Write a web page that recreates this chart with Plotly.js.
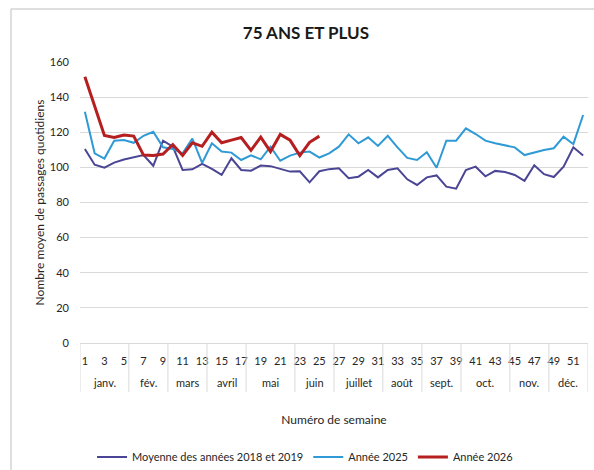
<!DOCTYPE html>
<html>
<head>
<meta charset="utf-8">
<script src="https://cdn.plot.ly/plotly-3.0.1.min.js"></script>
<style>
html,body{margin:0;padding:0;background:#fff;}
#chart{width:594px;height:470px;}
</style>
</head>
<body>
<div id="chart"></div>
<script>
// Week numbers (x categories)
const weeks = [1,2,3,4,5,6,7,8,9,10,11,12,13,14,15,16,17,18,19,20,21,22,23,24,25,26,
               27,28,29,30,31,32,33,34,35,36,37,38,39,40,41,42,43,44,45,46,47,48,49,50,51,52];
const weekTicks = [1,3,5,7,9,11,13,15,17,19,21,23,25,27,29,31,33,35,37,39,41,43,45,47,49,51];

// Month groups (first and last week of each month)
const monthNames = ["janv.","fév.","mars","avril","mai","juin","juillet","août","sept.","oct.","nov.","déc."];
const monthFirstWeek = [1,6,10,14,18,23,27,32,36,40,45,49];
const monthLastWeek  = [5,9,13,17,22,26,31,35,39,44,48,52];

// Series
const moy2018_2019 = [110.5,101.5,99.8,102.7,104.5,105.8,107,100.9,115.2,111.8,98.5,98.9,102,
  99.2,95.7,105.2,98.5,98.1,101,100.7,99,97.6,97.8,91.5,97.8,99,
  99.5,93.8,94.7,98.5,94.3,98.5,99.5,93.2,90,94.3,95.4,89,87.9,
  98.5,100.4,94.9,98,97.4,95.7,92.3,101.2,96.1,94.5,100.4,111.4,106.7];
const annee2025 = [131.7,108,105,115.2,115.6,114,118,120.3,111.4,110.5,108,116.4,102.5,
  113.7,109,108.4,104.2,106.9,104.6,111.8,103.8,106.7,108.4,109,105.6,108,
  111.8,118.8,113.7,117.1,112.2,118,111.4,105.4,104.2,108.6,99.8,115.2,115.2,
  122.2,119,115.2,113.7,112.6,111.4,107,108.6,109.9,110.9,117.5,113.2,129.8];
const annee2026 = [151.6,135.5,118.2,117,118.4,117.8,107,106.8,107.6,113,106.8,114,112,
  120,114,115.5,117,109.7,117.2,109,118.8,115.5,106.7,114.3,117.8];

const seriesNames = ["Moyenne des années 2018 et 2019","Année 2025","Année 2026"];
const FONT = "Lato, 'Open Sans', sans-serif";
const GRID = "#D9D9D9";

const traces = [
  {x: weeks, y: moy2018_2019, name: seriesNames[0], type: "scatter", mode: "lines",
   line: {color: "#4A4594", width: 2}},
  {x: weeks.slice(0, annee2025.length), y: annee2025, name: seriesNames[1], type: "scatter", mode: "lines",
   line: {color: "#2F9AD6", width: 2}},
  {x: weeks.slice(0, annee2026.length), y: annee2026, name: seriesNames[2], type: "scatter", mode: "lines",
   line: {color: "#B51F1F", width: 3}}
];

const sepY = -0.174;
const shapes = [];
const bounds = [0.5].concat(monthLastWeek.map(w => w + 0.5));
bounds.forEach(b => shapes.push({type: "line", xref: "x", yref: "paper", x0: b, x1: b, y0: 0, y1: sepY,
  line: {color: GRID, width: 1}}));
// outer chart border
shapes.push({type: "rect", xref: "paper", yref: "paper", x0: -0.1358, x1: 1.2, y0: -0.6, y1: 1.1886,
  line: {color: "#BFBFBF", width: 1}, layer: "below"});

const annotations = monthNames.map((m, i) => ({
  text: m, xref: "x", yref: "paper", x: (monthFirstWeek[i] + monthLastWeek[i]) / 2, y: -0.142,
  xanchor: "center", yanchor: "middle", showarrow: false, font: {family: FONT, size: 11, color: "#262626"}
}));

const layout = {
  width: 594, height: 470,
  margin: {l: 80, r: 6, t: 62, b: 127, autoexpand: false},
  paper_bgcolor: "rgba(0,0,0,0)", plot_bgcolor: "rgba(0,0,0,0)",
  font: {family: FONT, size: 11, color: "#262626"},
  title: {text: "<b>75 ANS ET PLUS</b>", font: {family: FONT, size: 17, color: "#1a1a1a"},
          x: 0.515, xanchor: "center", y: 0.93, yanchor: "middle", yref: "container"},
  xaxis: {range: [0.5, 52.5], tickmode: "array", tickvals: weekTicks, ticktext: weekTicks.map(String),
          showgrid: false, zeroline: false, showline: true, linecolor: GRID, linewidth: 1,
          ticks: "", ticklabelstandoff: 8, tickfont: {family: FONT, size: 11, color: "#262626"},
          title: {text: "Numéro de semaine", standoff: 49, font: {family: FONT, size: 12, color: "#262626"}}},
  yaxis: {range: [0, 160], dtick: 20, tick0: 0, showgrid: true, gridcolor: GRID, gridwidth: 1,
          zeroline: false, showline: false, ticks: "", ticklabelstandoff: 10,
          tickfont: {family: FONT, size: 11, color: "#262626"},
          title: {text: "Nombre moyen de passages quotidiens", standoff: 2,
                  font: {family: FONT, size: 12, color: "#262626"}}},
  legend: {orientation: "h", x: 0.443, xanchor: "center", y: -0.406, yanchor: "middle",
           font: {family: FONT, size: 11, color: "#262626"}, bgcolor: "rgba(0,0,0,0)"},
  shapes: shapes,
  annotations: annotations,
  showlegend: true
};

Plotly.newPlot("chart", traces, layout, {displayModeBar: false, staticPlot: true});
</script>
</body>
</html>
